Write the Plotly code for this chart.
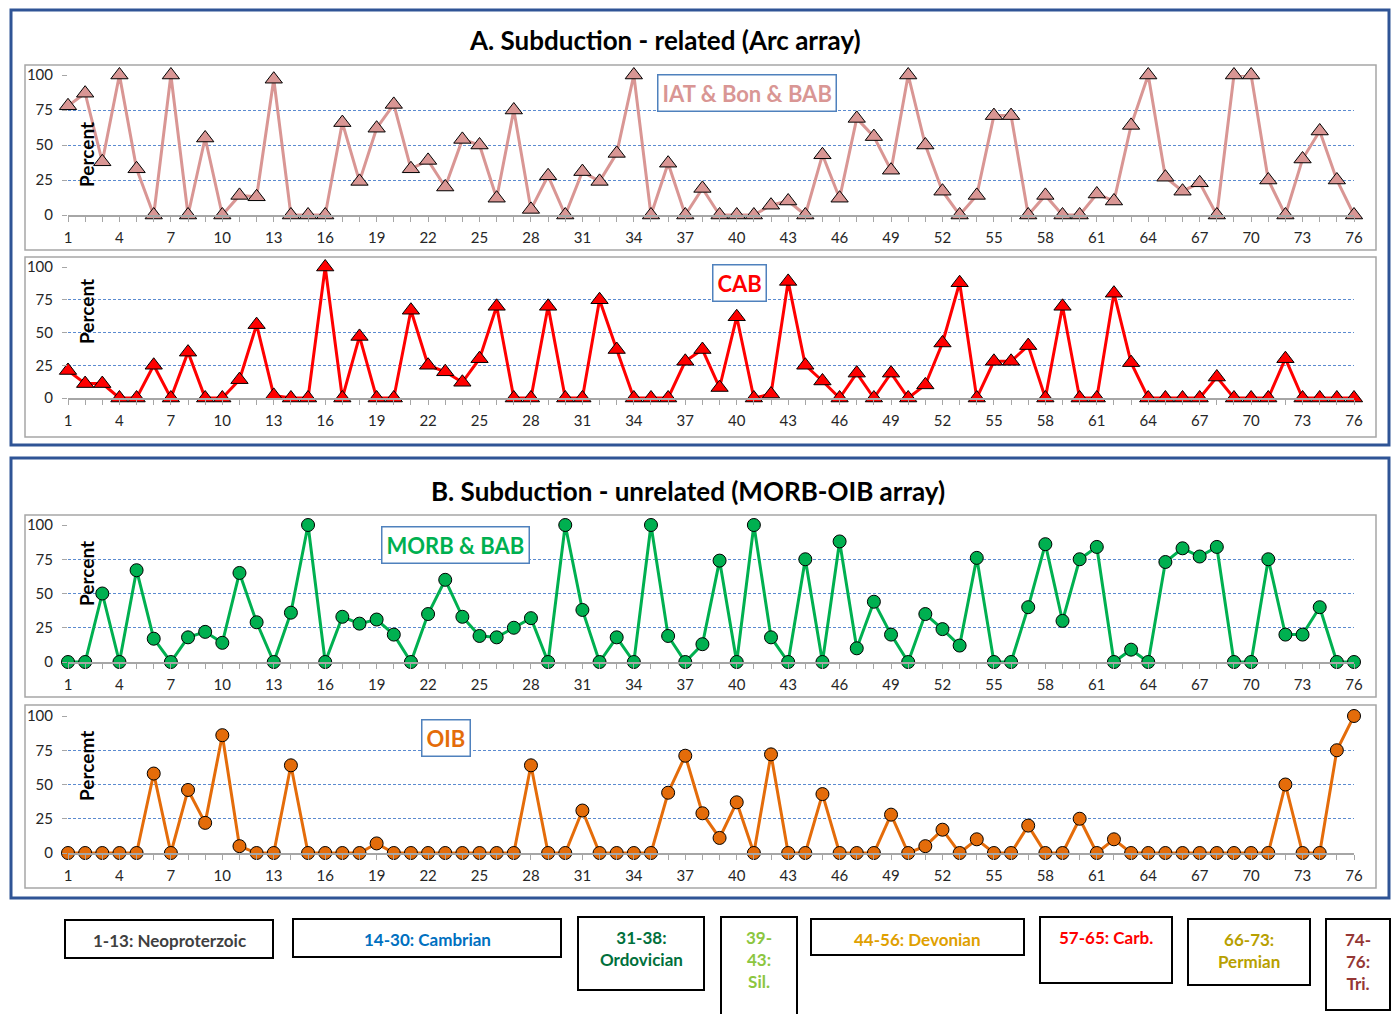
import plotly.graph_objects as go

W, H = 1394, 1014

samples = list(range(1, 77))

iat_bon_bab = [78, 87, 38, 100, 33, 0, 100, 0, 55, 0, 14, 13, 97, 0, 0, 0, 66, 24, 62, 79,
               33, 39, 20, 54, 50, 12, 75, 4, 28, 0, 31, 24, 44, 100, 0, 37, 0, 19, 0, 0,
               0, 7, 10, 0, 43, 12, 69, 56, 32, 100, 50, 17, 0, 14, 71, 71, 0, 14, 0, 0,
               15, 10, 64, 100, 27, 17, 23, 0, 100, 100, 25, 0, 40, 60, 25, 0]

cab = [21, 11, 11, 0, 0, 25, 0, 35, 0, 0, 14, 56, 2, 0, 0, 100, 0, 47, 0, 0,
       67, 25, 20, 12, 30, 70, 0, 0, 70, 0, 0, 75, 37, 0, 0, 0, 28, 37, 8, 62,
       0, 3, 89, 25, 13, 0, 19, 0, 19, 0, 10, 42, 88, 0, 28, 28, 40, 0, 70, 0,
       0, 80, 27, 0, 0, 0, 0, 16, 0, 0, 0, 30, 0, 0, 0, 0]

morb_bab = [0, 0, 50, 0, 67, 17, 0, 18, 22, 14, 65, 29, 0, 36, 100, 0, 33, 28, 31, 20,
            0, 35, 60, 33, 19, 18, 25, 32, 0, 100, 38, 0, 18, 0, 100, 19, 0, 13, 74, 0,
            100, 18, 0, 75, 0, 88, 10, 44, 20, 0, 35, 24, 12, 76, 0, 0, 40, 86, 30, 75,
            84, 0, 9, 0, 73, 83, 77, 84, 0, 0, 75, 20, 20, 40, 0, 0]

oib = [0, 0, 0, 0, 0, 58, 0, 46, 22, 86, 5, 0, 0, 64, 0, 0, 0, 0, 7, 0,
       0, 0, 0, 0, 0, 0, 0, 64, 0, 0, 31, 0, 0, 0, 0, 44, 71, 29, 11, 37,
       0, 72, 0, 0, 43, 0, 0, 0, 28, 0, 5, 17, 0, 10, 0, 0, 20, 0, 0, 25,
       0, 10, 0, 0, 0, 0, 0, 0, 0, 0, 0, 50, 0, 0, 75, 100]

x_ticks = list(range(1, 77, 3))
y_ticks = [0, 25, 50, 75, 100]

series_names = ["IAT & Bon & BAB", "CAB", "MORB & BAB", "OIB"]
series_data = [iat_bon_bab, cab, morb_bab, oib]
series_colors = ["#D99694", "#FF0000", "#00B050", "#E46C0A"]
series_symbols = ["triangle-up", "triangle-up", "circle", "circle"]
y_titles = ["Percent", "Percent", "Percent", "Percemt"]

periods = ["1-13: Neoproterzoic", "14-30: Cambrian", "31-38:<br>Ordovician", "39-<br>43:<br>Sil.",
           "44-56: Devonian", "57-65: Carb.", "66-73:<br>Permian", "74-<br>76:<br>Tri."]
period_colors = ["#404040", "#0070C0", "#00703C", "#8CC63F", "#E0A000", "#FF0000", "#B8A000", "#953735"]


def px(x):
    return x / W


def py(y):
    return 1 - y / H


FONT = "Lato"

# plot layout geometry (pixels)
x_left, x_right = 68, 1354
y_spans = [(75, 215), (267, 398), (525, 662), (716, 853)]
frames = [(25, 65, 1376, 250), (25, 257, 1376, 437), (25, 515, 1376, 697), (25, 705, 1376, 888)]
ytitle_centers = [155, 312, 574, 766]

fig = go.Figure()
layout = dict(
    template="none",
    width=W, height=H, margin=dict(l=0, r=0, t=0, b=0, pad=0, autoexpand=False),
    paper_bgcolor="white", plot_bgcolor="rgba(0,0,0,0)", showlegend=False,
    font=dict(family=FONT, size=14, color="#262626"),
)

shapes = []
annotations = []

for i in range(4):
    k = "" if i == 0 else str(i + 1)
    top, bot = y_spans[i]
    layout["xaxis" + k] = dict(
        domain=[px(x_left), px(x_right)], anchor="y" + k, range=[1, 76], automargin=False,
        tickmode="array", tickvals=x_ticks, ticktext=[str(v) for v in x_ticks],
        ticks="outside", ticklen=5, tickcolor="#A6A6A6", tickwidth=1,
        minor=dict(dtick=1, tick0=1, ticks="outside", ticklen=5, tickcolor="#A6A6A6", showgrid=False),
        showline=True, linecolor="#A6A6A6", linewidth=1.5, showgrid=False, zeroline=False,
        tickfont=dict(family=FONT, size=15, color="#262626"), ticklabelstandoff=3,
    )
    layout["yaxis" + k] = dict(
        domain=[py(bot), py(top)], anchor="x" + k, range=[0, 100], automargin=False,
        tickmode="array", tickvals=y_ticks,
        ticks="outside", ticklen=5, tickcolor="#A6A6A6",
        showline=False, showgrid=True, gridcolor="#5B8BD0", griddash="3px,2px", gridwidth=1,
        zeroline=False, tickfont=dict(family=FONT, size=15, color="#262626"), ticklabelstandoff=6,
    )
    fig.add_trace(go.Scatter(
        x=samples, y=series_data[i], mode="lines+markers", xaxis="x" + k, yaxis="y" + k,
        line=dict(color=series_colors[i], width=3),
        marker=dict(symbol=series_symbols[i], size=15 if i < 2 else 13, color=series_colors[i],
                    line=dict(color="black", width=1)),
        cliponaxis=False, name=series_names[i],
    ))
    fx0, fy0, fx1, fy1 = frames[i]
    shapes.append(dict(type="rect", xref="paper", yref="paper", x0=px(fx0), x1=px(fx1),
                       y0=py(fy1), y1=py(fy0), line=dict(color="#A6A6A6", width=1.5),
                       layer="below"))
    annotations.append(dict(text="<b>" + y_titles[i] + "</b>", xref="paper", yref="paper",
                            x=px(86), y=py(ytitle_centers[i]), textangle=-90,
                            showarrow=False, font=dict(family=FONT, size=19, color="black"),
                            xanchor="center", yanchor="middle"))

# series label boxes
label_pos = [(747, 93), (739, 283), (455, 545), (446, 738)]
for i in range(4):
    annotations.append(dict(text="<b>" + series_names[i] + "</b>", xref="paper", yref="paper",
                            x=px(label_pos[i][0]), y=py(label_pos[i][1]), showarrow=False,
                            font=dict(family=FONT, size=22, color=series_colors[i]),
                            bordercolor="#4F81BD", borderwidth=1.5, borderpad=4, bgcolor="white",
                            xanchor="center", yanchor="middle"))

# outer group boxes
for (y0, y1) in [(10, 445), (458, 898)]:
    shapes.append(dict(type="rect", xref="paper", yref="paper", x0=px(11), x1=px(1389),
                       y0=py(y1), y1=py(y0), line=dict(color="#2F5496", width=3)))

annotations.append(dict(text="<b>A. Subduction - related (Arc array)</b>", xref="paper", yref="paper",
                        x=px(665), y=py(40), showarrow=False, xanchor="center", yanchor="middle",
                        font=dict(family=FONT, size=26, color="black")))
annotations.append(dict(text="<b>B. Subduction - unrelated (MORB-OIB array)</b>", xref="paper", yref="paper",
                        x=px(688), y=py(491), showarrow=False, xanchor="center", yanchor="middle",
                        font=dict(family=FONT, size=26, color="black")))

# period boxes
period_boxes = [(65, 920, 273, 958), (293, 919, 561, 957), (578, 917, 704, 990), (721, 917, 797, 1016),
                (811, 919, 1024, 955), (1040, 917, 1172, 983), (1188, 919, 1310, 985), (1326, 919, 1390, 1010)]
for (x0, y0, x1, y1), txt, col in zip(period_boxes, periods, period_colors):
    shapes.append(dict(type="rect", xref="paper", yref="paper", x0=px(x0), x1=px(x1),
                       y0=py(y1), y1=py(y0), line=dict(color="black", width=2)))
    annotations.append(dict(text="<b>" + txt + "</b>", xref="paper", yref="paper",
                            x=px((x0 + x1) / 2), y=py(y0 + 8), showarrow=False,
                            xanchor="center", yanchor="top", align="center",
                            font=dict(family=FONT, size=17, color=col)))

layout["shapes"] = shapes
layout["annotations"] = annotations
fig.update_layout(**layout)

fig.write_html("out.html",
               post_script="document.body.style.margin='0px';document.body.style.overflow='hidden';")
